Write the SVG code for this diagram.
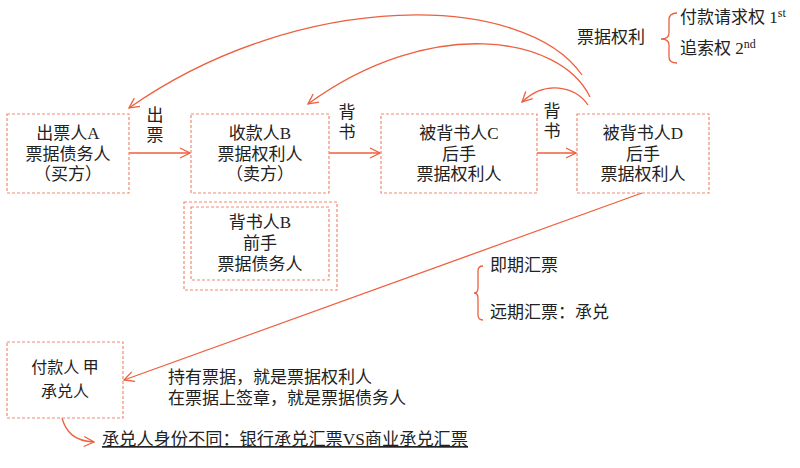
<svg xmlns="http://www.w3.org/2000/svg" width="800" height="468" viewBox="0 0 800 468">
<defs>
<style>
.box{fill:none;stroke:#F28A70;stroke-width:1.2;stroke-dasharray:3 2}
.ln{fill:none;stroke:#EE5F3E;stroke-width:1.3}
.br{fill:none;stroke:#EE5F3E;stroke-width:1.3}
text{font-family:"Liberation Serif","Noto Sans CJK SC",serif;font-size:17px;fill:#222}
.c{text-anchor:middle}
.s{font-family:"Noto Sans CJK SC",sans-serif;font-size:16px}
</style>
<marker id="ah" viewBox="0 0 12 12" refX="11" refY="6" markerWidth="12" markerHeight="12" markerUnits="userSpaceOnUse" orient="auto">
<path d="M1,1 L11,6 L1,11" fill="none" stroke="#EE5F3E" stroke-width="1.3"/>
</marker>
</defs>
<rect width="800" height="468" fill="#fff"/>

<g id="connectors">
<line class="ln" x1="129" y1="153" x2="190" y2="153" marker-end="url(#ah)"/>
<line class="ln" x1="329" y1="153" x2="380" y2="153" marker-end="url(#ah)"/>
<line class="ln" x1="537" y1="153" x2="576" y2="153" marker-end="url(#ah)"/>
<path class="ln" d="M582,75 C525,-8 300,-12 129,108" marker-end="url(#ah)"/>
<path class="ln" d="M590,97 C560,35 430,15 308,104" marker-end="url(#ah)"/>
<path class="ln" d="M588,105 C575,86 545,80 522,102" marker-end="url(#ah)"/>
<line class="ln" x1="642" y1="193" x2="124" y2="380" marker-end="url(#ah)"/>
<path class="ln" d="M62,418 C66,432 74,441 94,442" marker-end="url(#ah)"/>
</g>

<g id="labels">
<text class="c" x="155" y="121">出</text>
<text class="c" x="155" y="141">票</text>
<text class="c" x="347" y="118">背</text>
<text class="c" x="347" y="138">书</text>
<text class="c" x="552" y="117">背</text>
<text class="c" x="552" y="137">书</text>
</g>

<g id="nodeA">
<rect class="box" x="7" y="114" width="122" height="79"/>
<text class="c" x="68" y="139">出票人A</text>
<text class="c" x="68" y="160">票据债务人</text>
<text class="c" x="68" y="180">（买方）</text>
</g>

<g id="nodeB">
<rect class="box" x="191" y="114" width="138" height="79"/>
<text class="c" x="260" y="139">收款人B</text>
<text class="c" x="260" y="160">票据权利人</text>
<text class="c" x="260" y="180">（卖方）</text>
</g>

<g id="nodeB2">
<rect class="box" x="184" y="202" width="153" height="88"/>
<rect class="box" x="191" y="207" width="138" height="73"/>
<text class="c" x="260" y="228">背书人B</text>
<text class="c" x="260" y="249">前手</text>
<text class="c" x="260" y="270">票据债务人</text>
</g>

<g id="nodeC">
<rect class="box" x="381" y="114" width="156" height="79"/>
<text class="c" x="459" y="139">被背书人C</text>
<text class="c" x="459" y="160">后手</text>
<text class="c" x="459" y="180">票据权利人</text>
</g>

<g id="nodeD">
<rect class="box" x="577" y="114" width="132" height="79"/>
<text class="c" x="643" y="139">被背书人D</text>
<text class="c" x="643" y="160">后手</text>
<text class="c" x="643" y="180">票据权利人</text>
</g>

<g id="nodeJia">
<rect class="box" x="7" y="342" width="116" height="76"/>
<text class="c s" x="65" y="373">付款人 甲</text>
<text class="c s" x="65" y="397">承兑人</text>
</g>

<g id="rights">
<text x="577" y="43">票据权利</text>
<path class="br" d="M677,13 Q669,13 669,20 L669,33 Q669,39 661,39 Q669,39 669,45 L669,57 Q669,63 677,63"/>
<text x="680" y="23">付款请求权 1<tspan font-size="12" dy="-6">st</tspan></text>
<text x="680" y="54">追索权 2<tspan font-size="12" dy="-6">nd</tspan></text>
</g>

<g id="drafts">
<path class="br" d="M483,266 Q478,266 478,271 L478,288 Q478,293 474,293 Q478,293 478,298 L478,315 Q478,320 483,320"/>
<text x="490" y="271">即期汇票</text>
<text x="490" y="318">远期汇票：承兑</text>
</g>

<g id="notes">
<text x="168" y="383">持有票据，就是票据权利人</text>
<text x="168" y="404">在票据上签章，就是票据债务人</text>
<text x="102" y="445" text-decoration="underline" textLength="366" lengthAdjust="spacingAndGlyphs">承兑人身份不同：银行承兑汇票VS商业承兑汇票</text>
</g>
</svg>
